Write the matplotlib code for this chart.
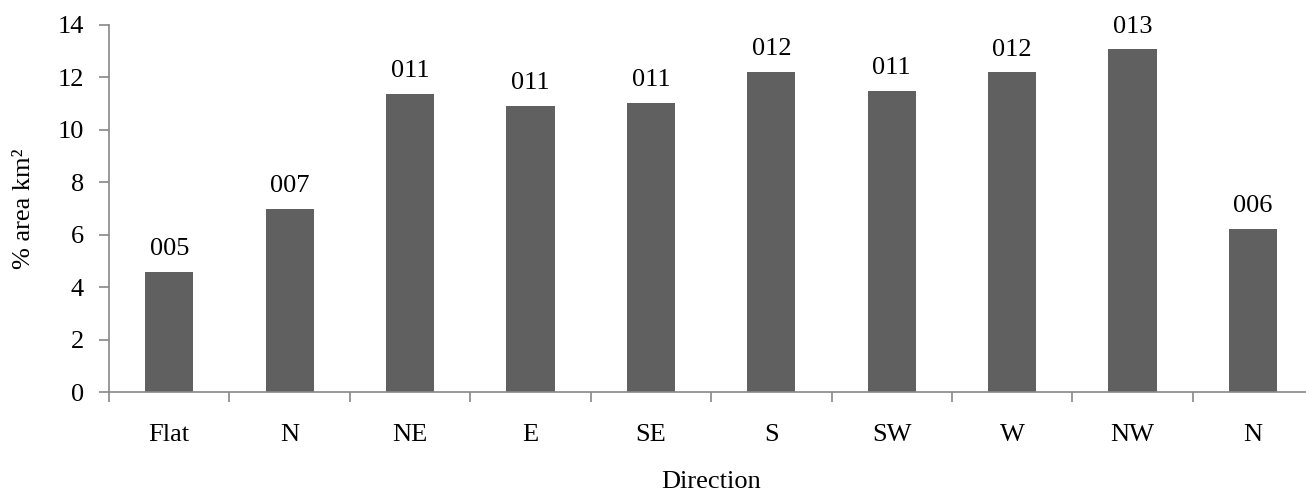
import matplotlib
matplotlib.use("Agg")
from matplotlib import pyplot as plt
from matplotlib.ticker import FixedLocator
import numpy as np

# percentage of area per slope direction
directions = ["Flat", "N", "NE", "E", "SE", "S", "SW", "W", "NW", "N"]
area_pct = [4.59, 7.0, 11.37, 10.93, 11.04, 12.22, 11.48, 12.19, 13.07, 6.23]

plt.rcParams["font.family"] = ["Liberation Serif", "DejaVu Serif"]
plt.rcParams["font.size"] = 19

fig = plt.figure(figsize=(13.06, 4.95), dpi=100)
ax = fig.add_axes([0.0835, 0.2075, 0.922, 0.742])

x = np.arange(len(directions))
bars = ax.bar(x, area_pct, width=0.4, color="#606060", zorder=2)

for xi, v in zip(x, area_pct):
    ax.annotate(f"{v:03.0f}", (xi, v), xytext=(0, 12), textcoords="offset points",
                ha="center", va="baseline")

ax.set_xlim(-0.5, len(directions) - 0.5)
ax.set_ylim(0, 14)
ax.set_yticks(range(0, 15, 2))

# category labels at centres, tick marks between categories
ax.set_xticks(x)
ax.set_xticklabels(directions)
ax.tick_params(axis="x", which="major", length=0, pad=23)
ax.xaxis.set_minor_locator(FixedLocator(np.arange(-0.5, len(directions), 1.0)))
ax.tick_params(axis="x", which="minor", length=7, color="#888888", width=1.2)
ax.tick_params(axis="y", length=7, color="#888888", width=1.2, pad=11)

for side in ["top", "right"]:
    ax.spines[side].set_visible(False)
for side in ["left", "bottom"]:
    ax.spines[side].set_color("#888888")
    ax.spines[side].set_linewidth(1.2)

ax.set_xlabel("Direction", labelpad=18)
ax.set_ylabel("% area km²", labelpad=16)

fig.savefig("out.png", dpi=100)
